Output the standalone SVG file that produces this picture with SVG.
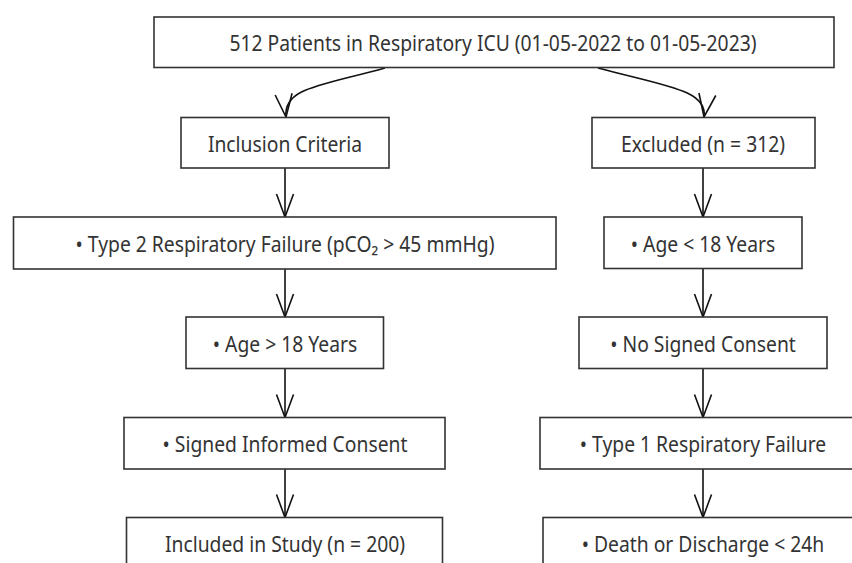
<svg xmlns="http://www.w3.org/2000/svg" width="852" height="563" viewBox="0 0 852 563">
<style>
  .box { fill: #ffffff; stroke: #333333; stroke-width: 1.6; }
  .lbl { font-family: "Noto Sans", "Open Sans", sans-serif; font-size: 21px; fill: #333333; text-anchor: middle; }
  .conn { fill: none; stroke: #111111; stroke-width: 1.6; marker-end: url(#arrow); }
</style>
<defs>
  <marker id="arrow" markerUnits="userSpaceOnUse" markerWidth="26" markerHeight="22" refX="24" refY="10" orient="auto" overflow="visible">
    <path d="M1,1.5 L24,10 L1,18.5" fill="none" stroke="#111111" stroke-width="1.6"/>
  </marker>
</defs>
<rect width="852" height="563" fill="#ffffff"/>

<g id="connectors">
  <path class="conn" d="M385,68 C320,86 283,88 286,117"/>
  <path class="conn" d="M598,68 C665,86 708,90 704,117"/>
  <line class="conn" x1="285" y1="168" x2="285" y2="217"/>
  <line class="conn" x1="285" y1="269" x2="285" y2="317"/>
  <line class="conn" x1="285" y1="368.5" x2="285" y2="417.5"/>
  <line class="conn" x1="285" y1="469" x2="285" y2="517.5"/>
  <line class="conn" x1="703" y1="168" x2="703" y2="217"/>
  <line class="conn" x1="703" y1="268.5" x2="703" y2="317"/>
  <line class="conn" x1="703" y1="368.5" x2="703" y2="417.5"/>
  <line class="conn" x1="703" y1="469" x2="703" y2="517.5"/>
</g>

<g id="n-top">
  <rect class="box" x="154" y="17" width="680" height="50.5"/>
  <text class="lbl" transform="translate(493,51) scale(0.92,1)">512 Patients in Respiratory ICU (01-05-2022 to 01-05-2023)</text>
</g>
<g id="n-inclusion">
  <rect class="box" x="181" y="117.5" width="208" height="50.5"/>
  <text class="lbl" transform="translate(285,151.5) scale(0.92,1)">Inclusion Criteria</text>
</g>
<g id="n-excluded">
  <rect class="box" x="592" y="117.5" width="223" height="50.5"/>
  <text class="lbl" transform="translate(703,151.5) scale(0.92,1)">Excluded (n = 312)</text>
</g>
<g id="n-type2">
  <rect class="box" x="13.5" y="217" width="542.5" height="52"/>
  <text class="lbl" transform="translate(285,251.5) scale(0.92,1)">• Type 2 Respiratory Failure (pCO₂ &gt; 45 mmHg)</text>
</g>
<g id="n-age-lt">
  <rect class="box" x="604" y="217" width="198" height="51.5"/>
  <text class="lbl" transform="translate(703,251.5) scale(0.92,1)">• Age &lt; 18 Years</text>
</g>
<g id="n-age-gt">
  <rect class="box" x="186" y="317" width="197.5" height="51.5"/>
  <text class="lbl" transform="translate(285,351.5) scale(0.92,1)">• Age &gt; 18 Years</text>
</g>
<g id="n-no-consent">
  <rect class="box" x="579" y="317" width="248" height="51.5"/>
  <text class="lbl" transform="translate(703,351.5) scale(0.92,1)">• No Signed Consent</text>
</g>
<g id="n-signed">
  <rect class="box" x="124" y="417.5" width="321" height="51.5"/>
  <text class="lbl" transform="translate(285,452) scale(0.92,1)">• Signed Informed Consent</text>
</g>
<g id="n-type1">
  <rect class="box" x="540" y="417.5" width="326" height="51.5"/>
  <text class="lbl" transform="translate(703,452) scale(0.92,1)">• Type 1 Respiratory Failure</text>
</g>
<g id="n-included">
  <rect class="box" x="126.5" y="517.5" width="316" height="60"/>
  <text class="lbl" transform="translate(285,552) scale(0.92,1)">Included in Study (n = 200)</text>
</g>
<g id="n-death">
  <rect class="box" x="543" y="517.5" width="320" height="60"/>
  <text class="lbl" transform="translate(703,552) scale(0.92,1)">• Death or Discharge &lt; 24h</text>
</g>
</svg>
